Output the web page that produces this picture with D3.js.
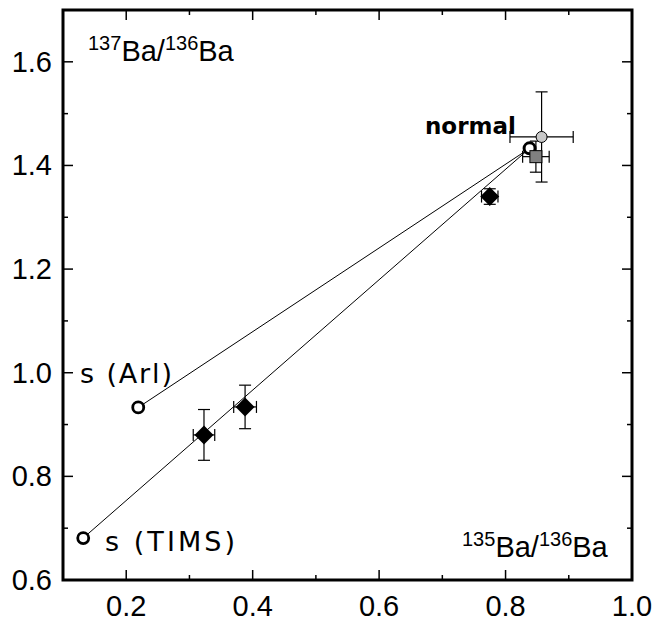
<!DOCTYPE html>
<html>
<head>
<meta charset="utf-8">
<script src="https://cdn.jsdelivr.net/npm/d3@7"></script>
<style>
  body { margin: 0; background: #fff; }
  text { font-family: "Liberation Sans", Arial, sans-serif; }
  .lbl { font-family: "DejaVu Sans", sans-serif; }
</style>
</head>
<body>
<div id="chart"></div>
<script>

// measured points (135Ba/136Ba, 137Ba/136Ba) with errors
var diamondX = [0.323, 0.388, 0.775];
var diamondY = [0.880, 0.934, 1.340];
var diamondXErr = [0.017, 0.018, 0.013];
var diamondYErr = [0.049, 0.042, 0.015];

// grey points near normal composition
var greyCircle = { x: 0.857, y: 1.455, xe: 0.050, ye: 0.087 };
var greySquare = { x: 0.848, y: 1.417, xe: 0.021, ye: 0.030 };

// end members
var normalPt = { x: 0.838, y: 1.433, name: "normal" };
var sArl = { x: 0.219, y: 0.933, name: "s (Arl)" };
var sTims = { x: 0.132, y: 0.681, name: "s (TIMS)" };

var xTicks = [0.2, 0.4, 0.6, 0.8, 1.0];
var yTicks = [0.6, 0.8, 1.0, 1.2, 1.4, 1.6];

var width = 653, height = 625;
var plotLeft = 63, plotRight = 632, plotTop = 10, plotBottom = 580;

var svg = d3.select("#chart").append("svg")
    .attr("width", width)
    .attr("height", height);

var x = d3.scaleLinear().domain([0.1, 1.0]).range([plotLeft, plotRight]);
var y = d3.scaleLinear().domain([0.6, 1.7]).range([plotBottom, plotTop]);

var xMinor = d3.range(0.1, 1.0001, 0.1);
var yMinor = d3.range(0.6, 1.7001, 0.1);

// ticks on all four sides (pointing inward)
function isMajor(v, list) {
    return list.some(function(t) { return Math.abs(t - v) < 1e-6; });
}

var tickG = svg.append("g").attr("stroke", "#000").attr("stroke-width", 1.5);
xMinor.forEach(function(v) {
    var len = isMajor(v, xTicks) ? 10 : 5;
    tickG.append("line").attr("x1", x(v)).attr("x2", x(v)).attr("y1", plotBottom).attr("y2", plotBottom - len);
    tickG.append("line").attr("x1", x(v)).attr("x2", x(v)).attr("y1", plotTop).attr("y2", plotTop + len);
});
yMinor.forEach(function(v) {
    var len = isMajor(v, yTicks) ? 10 : 5;
    tickG.append("line").attr("x1", plotLeft).attr("x2", plotLeft + len).attr("y1", y(v)).attr("y2", y(v));
    tickG.append("line").attr("x1", plotRight).attr("x2", plotRight - len).attr("y1", y(v)).attr("y2", y(v));
});

// tick labels
svg.append("g").selectAll("text")
    .data(xTicks)
    .enter()
    .append("text")
    .attr("x", function(d) { return x(d); })
    .attr("y", plotBottom + 36)
    .attr("text-anchor", "middle")
    .attr("font-size", 29)
    .text(function(d) { return d3.format(".1f")(d); });

svg.append("g").selectAll("text")
    .data(yTicks)
    .enter()
    .append("text")
    .attr("x", plotLeft - 11)
    .attr("y", function(d) { return y(d) + 10; })
    .attr("text-anchor", "end")
    .attr("font-size", 29)
    .text(function(d) { return d3.format(".1f")(d); });

// frame
svg.append("rect")
    .attr("x", plotLeft).attr("y", plotTop)
    .attr("width", plotRight - plotLeft).attr("height", plotBottom - plotTop)
    .attr("fill", "none")
    .attr("stroke", "#000")
    .attr("stroke-width", 3);

// axis titles inside the frame
function ratioLabel(xp, yp, iso) {
    var t = svg.append("text").attr("x", xp).attr("y", yp).attr("font-size", 29);
    t.append("tspan").attr("font-size", 20).attr("dy", -11).text(iso);
    t.append("tspan").attr("dy", 11).text("Ba/");
    t.append("tspan").attr("font-size", 20).attr("dy", -11).text("136");
    t.append("tspan").attr("dy", 11).text("Ba");
}
ratioLabel(88, 61, "137");
ratioLabel(462, 557, "135");

// mixing lines from normal to the s-process end members
svg.append("g").selectAll("line")
    .data([sArl, sTims])
    .enter()
    .append("line")
    .attr("x1", x(normalPt.x)).attr("y1", y(normalPt.y))
    .attr("x2", function(d) { return x(d.x); })
    .attr("y2", function(d) { return y(d.y); })
    .attr("stroke", "#000")
    .attr("stroke-width", 1);

// error bars
function errBar(px, py, xe, ye) {
    var g = svg.append("g").attr("stroke", "#000").attr("stroke-width", 1.2);
    var cap = 6;
    g.append("line").attr("x1", x(px - xe)).attr("x2", x(px + xe)).attr("y1", y(py)).attr("y2", y(py));
    g.append("line").attr("x1", x(px)).attr("x2", x(px)).attr("y1", y(py - ye)).attr("y2", y(py + ye));
    g.append("line").attr("x1", x(px - xe)).attr("x2", x(px - xe)).attr("y1", y(py) - cap).attr("y2", y(py) + cap);
    g.append("line").attr("x1", x(px + xe)).attr("x2", x(px + xe)).attr("y1", y(py) - cap).attr("y2", y(py) + cap);
    g.append("line").attr("x1", x(px) - cap).attr("x2", x(px) + cap).attr("y1", y(py - ye)).attr("y2", y(py - ye));
    g.append("line").attr("x1", x(px) - cap).attr("x2", x(px) + cap).attr("y1", y(py + ye)).attr("y2", y(py + ye));
}

errBar(greyCircle.x, greyCircle.y, greyCircle.xe, greyCircle.ye);
errBar(greySquare.x, greySquare.y, greySquare.xe, greySquare.ye);
diamondX.forEach(function(d, i) {
    errBar(diamondX[i], diamondY[i], diamondXErr[i], diamondYErr[i]);
});

// grey circle
svg.append("circle")
    .attr("cx", x(greyCircle.x)).attr("cy", y(greyCircle.y))
    .attr("r", 5.5)
    .attr("fill", "#c8c8c8")
    .attr("stroke", "#000")
    .attr("stroke-width", 1);

// normal open circle
svg.append("circle")
    .attr("cx", x(normalPt.x)).attr("cy", y(normalPt.y))
    .attr("r", 5.5)
    .attr("fill", "#fff")
    .attr("stroke", "#000")
    .attr("stroke-width", 3);

// grey square
svg.append("rect")
    .attr("x", x(greySquare.x) - 6).attr("y", y(greySquare.y) - 6)
    .attr("width", 12).attr("height", 12)
    .attr("fill", "#808080")
    .attr("stroke", "#000")
    .attr("stroke-width", 1);

// diamonds
svg.append("g").selectAll("path")
    .data(diamondX)
    .enter()
    .append("path")
    .attr("d", function(d, i) {
        var cx = x(diamondX[i]), cy = y(diamondY[i]), s = 9.5;
        return "M" + cx + "," + (cy - s) + "L" + (cx + s) + "," + cy +
               "L" + cx + "," + (cy + s) + "L" + (cx - s) + "," + cy + "Z";
    })
    .attr("fill", "#000");

// s-process end member circles
svg.append("g").selectAll("circle")
    .data([sArl, sTims])
    .enter()
    .append("circle")
    .attr("cx", function(d) { return x(d.x); })
    .attr("cy", function(d) { return y(d.y); })
    .attr("r", 5.5)
    .attr("fill", "#fff")
    .attr("stroke", "#000")
    .attr("stroke-width", 2.8);

// point labels
svg.append("text").attr("class", "lbl")
    .attr("x", 425).attr("y", 134)
    .attr("font-size", 23).attr("font-weight", "bold")
    .text(normalPt.name);
svg.append("text").attr("class", "lbl")
    .attr("x", 80).attr("y", 383)
    .attr("font-size", 27)
    .attr("textLength", 92)
    .text(sArl.name);
svg.append("text").attr("class", "lbl")
    .attr("x", 105).attr("y", 551)
    .attr("font-size", 27)
    .attr("textLength", 130)
    .text(sTims.name);

</script>
</body>
</html>
